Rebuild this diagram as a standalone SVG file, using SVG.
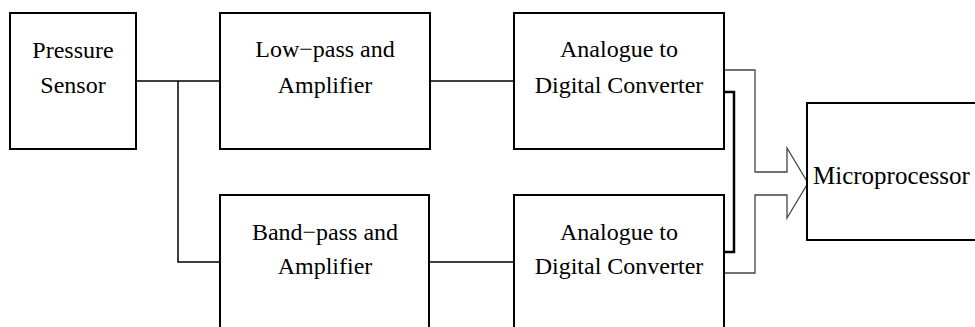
<svg xmlns="http://www.w3.org/2000/svg" width="975" height="327" viewBox="0 0 975 327">
<style>
.box{fill:#fff;stroke:#000;stroke-width:2}
.t{font-family:'Liberation Serif','Times New Roman','DejaVu Serif',serif;font-size:24px;fill:#000;text-anchor:middle}
.w{fill:none;stroke:#000;stroke-width:1.5}
.bus{fill:none;stroke:#444;stroke-width:1.3}
.thick{fill:none;stroke:#000;stroke-width:2.5}
</style>
<rect width="975" height="327" fill="#fff"/>
<g id="connectors">
<path class="w" d="M136 81H220M178 81V262H220M430 81H514M429 262H514"/>
<path class="bus" d="M724 70H755V172H787V148L808 183L787 218V195H755V273H724"/>
<path class="thick" d="M724 92H734V252H724"/>
</g>
<g id="pressure-sensor">
<rect class="box" x="10" y="13" width="126" height="136"/>
<text class="t" font-family="Liberation Serif" x="73" y="58">Pressure</text>
<text class="t" font-family="Liberation Serif" x="73" y="93">Sensor</text>
</g>
<g id="low-pass">
<rect class="box" x="220" y="13" width="210" height="136"/>
<text class="t" x="325" y="57">Low−pass and</text>
<text class="t" x="325" y="93">Amplifier</text>
</g>
<g id="adc-top">
<rect class="box" x="514" y="13" width="210" height="136"/>
<text class="t" x="619" y="57">Analogue to</text>
<text class="t" x="619" y="93">Digital Converter</text>
</g>
<g id="band-pass">
<rect class="box" x="220" y="195" width="209" height="145"/>
<text class="t" x="325" y="240">Band−pass and</text>
<text class="t" x="325" y="274">Amplifier</text>
</g>
<g id="adc-bottom">
<rect class="box" x="514" y="195" width="210" height="145"/>
<text class="t" x="619" y="240">Analogue to</text>
<text class="t" x="619" y="274">Digital Converter</text>
</g>
<g id="microprocessor">
<rect class="box" x="807" y="103" width="180" height="137"/>
<text class="t" x="813" y="184" style="text-anchor:start;font-size:25px">Microprocessor</text>
</g>
</svg>
